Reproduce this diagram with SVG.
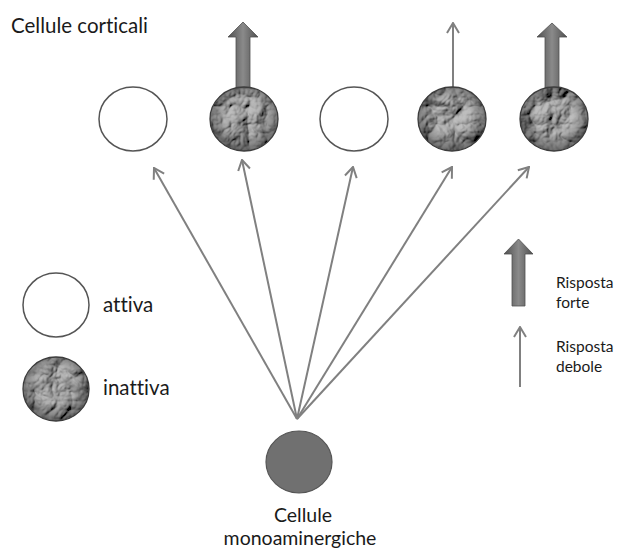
<svg xmlns="http://www.w3.org/2000/svg" width="622" height="553" viewBox="0 0 622 553">
<defs>
<style>
text{font-family:Lato,"Liberation Sans",sans-serif;fill:#1a1a1a;font-variant-ligatures:none}
.big{font-size:20.5px}
.mid{font-size:19.5px}
.small{font-size:15.5px}
.active{fill:#fff;stroke:#555;stroke-width:1.5}
.inactive{fill:#000;filter:url(#crumple)}
.rim{fill:url(#shade);stroke:#3c3c3c;stroke-width:1.3}
.conn{stroke:#808080;stroke-width:2;fill:none;marker-end:url(#open)}
.thick{fill:url(#shaft);stroke:#505050;stroke-width:0.8}
</style>
<filter id="crumple" x="-10%" y="-10%" width="120%" height="120%">
<feTurbulence type="turbulence" baseFrequency="0.028" numOctaves="4" seed="11" result="t"/>
<feDiffuseLighting in="t" lighting-color="#c4c4c4" surfaceScale="7" diffuseConstant="1.05" result="l">
<feDistantLight azimuth="225" elevation="42"/>
</feDiffuseLighting>
<feComposite in="l" in2="SourceAlpha" operator="in"/>
</filter>
<radialGradient id="shade" cx="50%" cy="45%" r="55%">
<stop offset="0.5" stop-color="#000" stop-opacity="0.05"/>
<stop offset="1" stop-color="#000" stop-opacity="0.45"/>
</radialGradient>
<linearGradient id="shaft" x1="0" y1="0" x2="1" y2="0">
<stop offset="0" stop-color="#4f4f4f"/>
<stop offset="0.5" stop-color="#8a8a8a"/>
<stop offset="1" stop-color="#4f4f4f"/>
</linearGradient>
<marker id="open" viewBox="0 0 12 14" refX="11" refY="7" markerWidth="12" markerHeight="14" markerUnits="userSpaceOnUse" orient="auto">
<path d="M1,1 L11,7 L1,13" fill="none" stroke="#808080" stroke-width="2"/>
</marker>
</defs>
<rect width="622" height="553" fill="#fff"/>

<text id="title" class="big" x="11" y="33">Cellule corticali</text>

<g id="connectors">
<line class="conn" x1="297" y1="419" x2="154" y2="168"/>
<line class="conn" x1="297" y1="419" x2="242" y2="160"/>
<line class="conn" x1="297" y1="419" x2="353" y2="167"/>
<line class="conn" x1="297" y1="419" x2="452" y2="167"/>
<line class="conn" x1="297" y1="419" x2="529" y2="167"/>
<line class="conn" x1="453" y1="87" x2="453" y2="23"/>
</g>

<g id="cell1"><ellipse class="active" cx="133" cy="119" rx="34" ry="32"/></g>
<g id="cell2">
<path class="thick" d="M236,88 V37 H228 L243,22 L258,37 H250 V88 Z"/>
<ellipse class="inactive" cx="244" cy="119" rx="34" ry="32"/>
<ellipse class="rim" cx="244" cy="119" rx="34" ry="32"/>
</g>
<g id="cell3"><ellipse class="active" cx="354" cy="119" rx="34" ry="32"/></g>
<g id="cell4">
<ellipse class="inactive" cx="452" cy="119" rx="34" ry="32"/>
<ellipse class="rim" cx="452" cy="119" rx="34" ry="32"/>
</g>
<g id="cell5">
<path class="thick" d="M545,88 V37 H537 L552,23 L567,37 H559 V88 Z"/>
<ellipse class="inactive" cx="554" cy="119" rx="34" ry="32"/>
<ellipse class="rim" cx="554" cy="119" rx="34" ry="32"/>
</g>

<g id="source">
<ellipse cx="299" cy="462" rx="33" ry="31" fill="#707070" stroke="#555" stroke-width="1.2"/>
<text class="mid" x="303" y="522" text-anchor="middle">Cellule</text>
<text class="mid" x="300" y="545" text-anchor="middle">monoaminergiche</text>
</g>

<g id="legend-active">
<ellipse class="active" cx="56" cy="305" rx="33" ry="32"/>
<text class="big" x="103" y="312">attiva</text>
</g>
<g id="legend-inactive">
<ellipse class="inactive" cx="56" cy="389" rx="33" ry="32"/>
<ellipse class="rim" cx="56" cy="389" rx="33" ry="32"/>
<text class="big" x="103" y="395">inattiva</text>
</g>
<g id="legend-strong">
<path class="thick" d="M512,306 V254 H504 L518.5,239 L533,254 H525 V306 Z"/>
<text class="small" x="556" y="288">Risposta</text>
<text class="small" x="556" y="308">forte</text>
</g>
<g id="legend-weak">
<line class="conn" x1="520" y1="387" x2="520" y2="327"/>
<text class="small" x="556" y="352">Risposta</text>
<text class="small" x="556" y="372">debole</text>
</g>
</svg>
